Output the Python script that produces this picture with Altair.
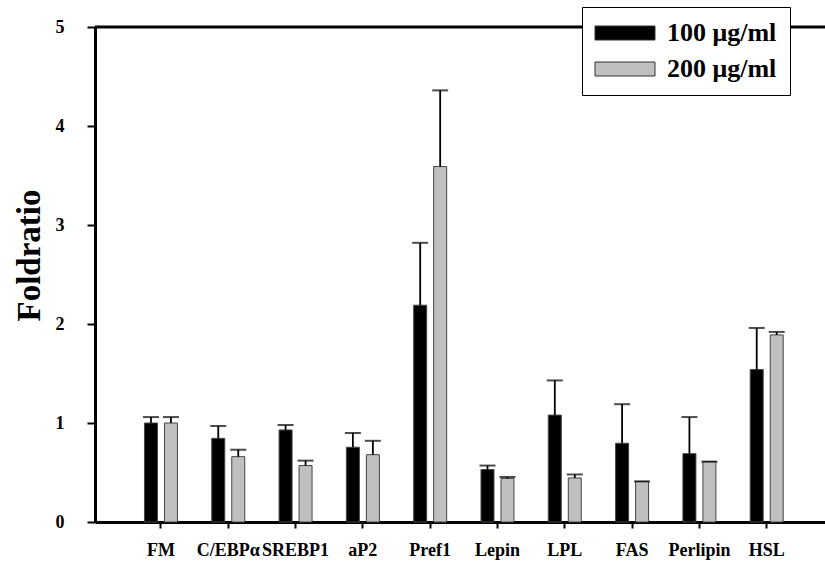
import altair as alt
import pandas as pd

genes = ["FM", "C/EBPα", "SREBP1", "aP2", "Pref1", "Lepin", "LPL", "FAS", "Perlipin", "HSL"]
doses = ["100 μg/ml", "200 μg/ml"]
val_100 = [1.00, 0.845, 0.93, 0.755, 2.19, 0.53, 1.08, 0.795, 0.69, 1.54]
err_100 = [0.06, 0.125, 0.05, 0.145, 0.63, 0.04, 0.35, 0.395, 0.37, 0.42]
val_200 = [1.00, 0.66, 0.57, 0.68, 3.59, 0.44, 0.445, 0.41, 0.61, 1.89]
err_200 = [0.06, 0.07, 0.05, 0.14, 0.77, 0.015, 0.035, 0.0, 0.0, 0.03]
y_ticks = [0, 1, 2, 3, 4, 5]

rows = []
for i, g in enumerate(genes):
    rows.append({"gene": g, "dose": doses[0], "value": val_100[i], "err": err_100[i]})
    rows.append({"gene": g, "dose": doses[1], "value": val_200[i], "err": err_200[i]})
df = pd.DataFrame(rows)

FONT = "Liberation Serif"
W, H = 730, 495

x_enc = alt.X(
    "gene:N", sort=genes, title=None,
    scale=alt.Scale(paddingInner=0.51, paddingOuter=0.678, align=0.542),
    axis=alt.Axis(labelAngle=0, labelFont=FONT, labelFontWeight="bold", labelFontSize=18,
                  labelColor="black", tickSize=6, tickWidth=2, tickColor="black",
                  domainWidth=3, domainColor="black", labelPadding=13, grid=False),
)
xo_enc = alt.XOffset("dose:N", sort=doses, scale=alt.Scale(paddingInner=0.35, paddingOuter=0))

y_axis = alt.Axis(values=y_ticks, title="Foldratio", grid=False,
                  labelFont=FONT, labelFontWeight="bold", labelFontSize=18,
                  labelColor="black", labelPadding=23, tickSize=8, tickWidth=2,
                  tickColor="black", domainWidth=3, domainColor="black",
                  titleFont=FONT, titleFontSize=33, titleFontWeight="bold",
                  titleColor="black", titleX=-66, titleY=228, titleAngle=270,
                  titleAlign="center", titleBaseline="middle")
y_scale = alt.Scale(domain=[0, 5], nice=False)

base = alt.Chart(df).transform_calculate(top="datum.value + datum.err")

bars = base.mark_bar(stroke="#444", strokeWidth=1).encode(
    x=x_enc,
    xOffset=xo_enc,
    y=alt.Y("value:Q", scale=y_scale, axis=y_axis),
    color=alt.Color("dose:N", sort=doses,
                    scale=alt.Scale(domain=doses, range=["#000000", "#c0c0c0"]),
                    legend=alt.Legend(title=None, orient="none", legendX=487, legendY=-20,
                                      symbolType="M-1.857,-1H6.714V1H-1.857Z", symbolSize=196,
                                      symbolStrokeColor="#333", symbolStrokeWidth=1,
                                      labelFont=FONT, labelFontWeight="bold", labelFontSize=26,
                                      labelColor="black", labelOffset=46,
                                      strokeColor="black", fillColor="white",
                                      padding=13, rowPadding=10, symbolOpacity=1)),
)

err_lines = base.mark_rule(color="black", strokeWidth=1.8).encode(
    x=x_enc, xOffset=xo_enc,
    y=alt.Y("value:Q", scale=y_scale, axis=y_axis), y2="top:Q",
)
caps = base.mark_tick(color="black", size=16, thickness=2).encode(
    x=x_enc, xOffset=xo_enc,
    y=alt.Y("top:Q", scale=y_scale, axis=y_axis),
)

top_line = alt.Chart(pd.DataFrame({"k": [0]})).mark_rule(color="black", strokeWidth=3).encode(
    x=alt.value(0), x2=alt.value(W), y=alt.value(0)
)

chart = alt.layer(bars, err_lines, caps, top_line).properties(
    width=W, height=H,
    autosize=alt.AutoSizeParams(type="none"),
    padding={"left": 95, "top": 27, "right": 0, "bottom": 40},
).configure_view(stroke=None).configure(background="white")

chart.save("out.html", embed_options={"renderer": "svg", "actions": False})
